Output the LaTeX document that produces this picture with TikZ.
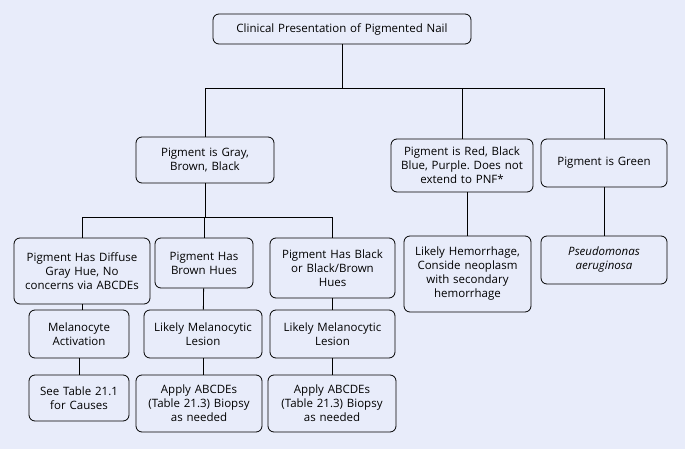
\documentclass[tikz,border=0pt]{standalone}
\usepackage{fontspec}
\setmainfont{Open Sans}
\frenchspacing
\definecolor{bg}{HTML}{E8ECFA}
\begin{document}
\begin{tikzpicture}[x=1pt,y=-1pt,
  bx/.style={draw,thick,rounded corners=6pt,fill=bg,align=center,inner sep=1pt,font=\fontsize{11.5}{14}\selectfont},
  ln/.style={thick}]
\fill[bg] (0,0) rectangle (685,449);
\useasboundingbox (0,0) rectangle (685,449);
\newcommand\bx[6]{\node[bx,minimum width=#4,minimum height=#5,text width=#4-4] (#1) at (#2,#3) {#6};}
\bx{root}{342}{29}{258}{30}{Clinical Presentation of Pigmented Nail}
\bx{gray}{205}{160}{138}{46}{Pigment is Gray,\\Brown, Black}
\bx{red}{462}{165.5}{142}{53}{Pigment is Red, Black\\Blue, Purple. Does not\\extend to PNF*}
\bx{green}{604}{163}{126}{48}{Pigment is Green}
\bx{dif}{82}{271}{136}{66}{Pigment Has Diffuse\\Gray Hue, No\\concerns via ABCDEs}
\bx{brown}{204}{263}{98}{50}{Pigment Has\\Brown Hues}
\bx{black}{332.5}{268}{125}{60}{Pigment Has Black\\or Black/Brown\\Hues}
\bx{mel}{79}{334}{100}{48}{Melanocyte\\Activation}
\bx{lik}{203}{334}{118}{48}{Likely Melanocytic\\Lesion}
\bx{likb}{332.5}{334}{125}{48}{Likely Melanocytic\\Lesion}
\bx{see}{79}{398}{100}{46}{See Table 21.1\\for Causes}
\bx{app}{199}{403.5}{126}{57}{Apply ABCDEs\\(Table 21.3) Biopsy\\as needed}
\bx{appb}{332}{403.5}{128}{57}{Apply ABCDEs\\(Table 21.3) Biopsy\\as needed}
\bx{hem}{467.5}{274}{127}{76}{Likely Hemorrhage,\\Conside neoplasm\\with secondary\\hemorrhage}
\bx{pse}{604}{260}{126}{48}{\itshape Pseudomonas\\\itshape aeruginosa}
\draw[ln] (root.south) -- ++(0,44) coordinate (j1);
\draw[ln] (gray.north) |- (j1) -| (green.north);
\draw[ln] (red.north) -- (red.north |- j1);
\draw[ln] (gray.south) -- ++(0,34) coordinate (j2);
\draw[ln] (dif.north) |- (j2) -| (black.north);
\draw[ln] (brown.north) -- (brown.north |- j2);
\draw[ln] (dif.south) -- (dif.south |- mel.north);
\draw[ln] (brown) -- (lik);
\draw[ln] (black) -- (likb);
\draw[ln] (mel) -- (see);
\draw[ln] (lik.south) -- (lik.south |- app.north);
\draw[ln] (likb.south) -- (likb.south |- appb.north);
\draw[ln] (red.south -| hem.north) -- (hem.north);
\draw[ln] (green) -- (pse);
\end{tikzpicture}
\end{document}
